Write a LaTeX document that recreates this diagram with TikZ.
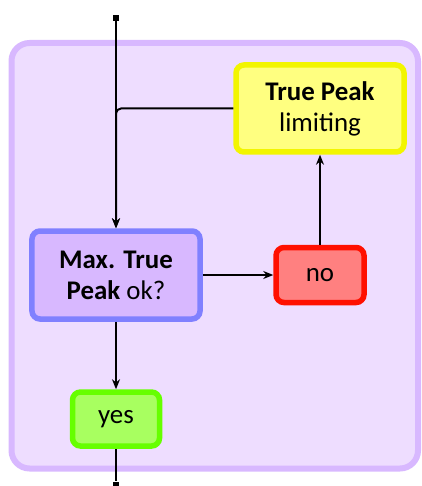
\documentclass[tikz,border=0pt]{standalone}
\usepackage{fontspec}
\setmainfont{Carlito}
\usetikzlibrary{arrows.meta}
\definecolor{panelfill}{HTML}{EEDDFF}
\definecolor{paneledge}{HTML}{D8B8FF}
\definecolor{limitfill}{HTML}{FFFF80}
\definecolor{limitedge}{HTML}{F2F500}
\definecolor{checkfill}{HTML}{D8B8FF}
\definecolor{checkedge}{HTML}{8080FF}
\definecolor{nofill}{HTML}{FF8080}
\definecolor{noedge}{HTML}{FF1000}
\definecolor{yesfill}{HTML}{A8FF60}
\definecolor{yesedge}{HTML}{66FF00}
\begin{document}
\begin{tikzpicture}[x=1bp,y=-1bp,
  box/.style={draw, line width=5.5bp, rounded corners=8bp, align=center,
    inner sep=0pt, font=\fontsize{27}{31}\selectfont},
  flow/.style={line width=2bp, -{Stealth[length=10bp,width=8bp]}},
  wire/.style={line width=2bp},
  term/.style={fill=black, minimum size=6bp, inner sep=0pt}]
\useasboundingbox (0,0) rectangle (421,486);

% background panel
\draw[line width=6bp, draw=paneledge, fill=panelfill, rounded corners=18bp]
  (11.5,43) rectangle (418,468.5);

% blocks
\node[box, draw=limitedge, fill=limitfill, minimum width=168bp, minimum height=87bp]
  (limit) at (320,108.5) {\textbf{True Peak}\\limiting};
\node[box, draw=checkedge, fill=checkfill, minimum width=168bp, minimum height=88bp]
  (check) at (116,275) {\textbf{Max. True}\\\textbf{Peak} ok?};
\node[box, draw=noedge, fill=nofill, minimum width=88bp, minimum height=55bp]
  (no) at (320,275) {no};
\node[box, draw=yesedge, fill=yesfill, minimum width=87bp, minimum height=54bp]
  (yes) at (116,419) {yes};

% terminals
\node[term] (in) at (116,18) {};
\node[term] (out) at (116,484.5) {};

% connectors
\draw[flow] (in) -- (check.north);
\draw[flow, rounded corners=5bp] (limit.west) -| (check.north);
\draw[flow] (check.east) -- (no.west);
\draw[flow] (no.north) -- (limit.south);
\draw[flow] (check.south) -- (yes.north);
\draw[wire] (yes.south) -- (out);
\end{tikzpicture}
\end{document}
